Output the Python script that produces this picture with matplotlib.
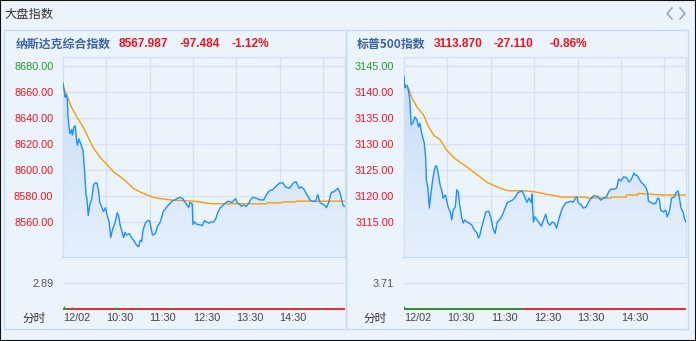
import numpy as np
import matplotlib
matplotlib.use("Agg")
import matplotlib.pyplot as plt
from matplotlib.lines import Line2D
from matplotlib.patches import Rectangle

plt.rcParams['font.family'] = ['Noto Sans CJK SC', 'DejaVu Sans']

# ---- data (minutes after 09:30) ----
ndx_min = [0, 2, 3, 4, 6, 7, 9, 10, 12, 13, 15, 17, 19, 20, 22, 24, 26, 28, 30, 32,
           33, 35, 37, 40, 42, 44, 47, 49, 51, 54, 56, 59, 61, 64, 66, 69, 72, 75, 77, 79,
           81, 84, 86, 88, 92, 95, 99, 102, 105, 107, 109, 111, 114, 117, 120, 122, 124, 128, 131, 134,
           137, 139, 143, 146, 151, 155, 158, 162, 166, 168, 172, 174, 176, 179, 180, 182, 186, 190, 193, 196,
           199, 203, 205, 209, 212, 215, 218, 222, 226, 229, 234, 239, 241, 244, 247, 250, 254, 257, 261, 264,
           269, 273, 278, 282, 286, 291, 296, 300, 305, 308, 314, 319, 323, 327, 330, 334, 338, 342, 345, 350,
           353, 356, 359, 362, 365, 368, 372, 375, 379, 381, 384, 386, 388, 390]
ndx_val = [8667, 8660, 8656, 8658, 8655, 8640, 8630, 8628, 8631, 8627, 8633, 8634, 8622, 8619, 8624, 8621, 8618, 8614, 8598, 8580,
           8579, 8565, 8573, 8578, 8588, 8590, 8590, 8585, 8575, 8571, 8568, 8571, 8565, 8560, 8548, 8555, 8559, 8567, 8565, 8558,
           8554, 8548, 8552, 8550, 8551, 8548, 8545, 8542, 8541, 8546, 8545, 8554, 8559, 8561, 8561, 8555, 8550, 8551, 8557, 8559,
           8564, 8568, 8571, 8573, 8576, 8577, 8578, 8579, 8578, 8576, 8573, 8571, 8575, 8574, 8558, 8560, 8558, 8558, 8557, 8561,
           8560, 8559, 8560, 8560, 8563, 8568, 8571, 8573, 8575, 8576, 8575, 8578, 8575, 8574, 8572, 8573, 8572, 8574, 8578, 8579,
           8578, 8577, 8577, 8581, 8584, 8585, 8588, 8590, 8590, 8587, 8586, 8590, 8591, 8586, 8587, 8585, 8581, 8577, 8576, 8576,
           8581, 8575, 8574, 8573, 8571, 8575, 8583, 8583, 8585, 8586, 8582, 8577, 8573, 8572]
ndx_avg_min = [0, 5, 12, 19, 28, 35, 42, 51, 61, 70, 79, 88, 97, 107, 116, 125, 134, 149, 179, 188,
               206, 282, 283, 303, 304, 322, 323, 390]
ndx_avg_val = [8664, 8658, 8648, 8641, 8633, 8625, 8617, 8610, 8604, 8598.5, 8595, 8591, 8586, 8583, 8581, 8579, 8578, 8577, 8576, 8575.5,
               8574, 8574, 8574.8, 8574.8, 8575.4, 8575.4, 8576, 8576]

spx_min = [0, 1, 4, 6, 8, 10, 12, 15, 18, 20, 22, 24, 28, 30, 31, 33, 35, 37, 40, 43,
           45, 47, 50, 52, 54, 57, 59, 61, 64, 66, 68, 71, 73, 75, 77, 80, 82, 84, 87, 90,
           94, 97, 101, 103, 105, 107, 111, 113, 117, 120, 123, 126, 129, 132, 136, 140, 143, 147, 150, 154,
           157, 160, 163, 166, 170, 173, 176, 177, 179, 181, 184, 187, 190, 194, 196, 199, 202, 205, 208, 211,
           214, 217, 220, 224, 227, 231, 234, 237, 239, 241, 245, 248, 252, 255, 259, 262, 266, 269, 272, 276,
           280, 283, 286, 290, 294, 297, 300, 304, 308, 311, 314, 318, 320, 322, 326, 329, 332, 335, 337, 338,
           341, 345, 348, 351, 353, 355, 359, 362, 364, 367, 370, 374, 376, 379, 381, 383, 386, 388, 390]
spx_val = [3143, 3140.8, 3141.3, 3140.4, 3138.5, 3133.7, 3134, 3135.2, 3134.6, 3133.3, 3134, 3132.3, 3130.2, 3127.3, 3123, 3121.7, 3117.7, 3120.2, 3123.5, 3125.6,
           3125.8, 3124.6, 3122.1, 3121.2, 3119.6, 3120.2, 3119.2, 3117.9, 3116.9, 3115.4, 3117.3, 3117.9, 3121.2, 3120.8, 3118.3, 3115.8, 3114.8, 3115.4, 3115, 3114.8,
           3114.4, 3113.5, 3112.9, 3111.9, 3112.5, 3113.8, 3115.8, 3116.9, 3117.1, 3116, 3113.8, 3112.8, 3115, 3115.4, 3116.3, 3117.7, 3118.8, 3119, 3119.2, 3119.8,
           3120.6, 3120.8, 3121, 3120.2, 3118.8, 3119.6, 3118.7, 3120.4, 3115, 3116, 3115.4, 3114.8, 3114.2, 3115.8, 3116.5, 3114.8, 3114.4, 3115, 3114.8, 3113.8,
           3115.4, 3116.9, 3117.9, 3118.7, 3118.8, 3119, 3118.8, 3119.6, 3119.8, 3118.7, 3118.3, 3117.7, 3117.9, 3118.8, 3119.6, 3120, 3120, 3119.8, 3119.2, 3119.6,
           3119.8, 3120.8, 3121.3, 3121.3, 3121.5, 3123.3, 3122.9, 3123.7, 3123.5, 3122.7, 3123.1, 3124.4, 3124, 3124, 3123.1, 3122.5, 3122.1, 3121.5, 3120.6, 3119,
           3118.8, 3118.5, 3118.6, 3119.6, 3119.4, 3117.3, 3116.9, 3117.3, 3116, 3117, 3119.6, 3119.8, 3120.6, 3121, 3119.6, 3117.7, 3116.9, 3115.6, 3115]
spx_avg_min = [0, 6, 11, 18, 27, 34, 41, 50, 59, 68, 77, 87, 96, 105, 114, 123, 133, 145, 168, 181,
               195, 218, 250, 255, 286, 287, 307, 308, 323, 324, 358, 390]
spx_avg_val = [3141.7, 3140.8, 3138.8, 3137.1, 3135.6, 3133.3, 3131.7, 3130.8, 3128.8, 3127.5, 3126.5, 3125.6, 3124.6, 3123.7, 3122.7, 3122.1, 3121.5, 3121, 3121, 3120.8,
               3120.4, 3119.8, 3119.8, 3119.6, 3119.6, 3119.8, 3119.8, 3120.2, 3120.2, 3120.5, 3120.2, 3120.2]

# volume strip: baseline segments and a few taller ticks
ndx_green_seg = [(0, 5), (72, 76), (90, 92), (100, 102), (115, 117), (150, 152), (230, 232), (330, 332), (358, 360), (375, 377)]
ndx_spikes_min = [1, 12, 74]
ndx_spikes_val = [0.35, 0.3, 0.3]
spx_green_seg = [(0, 165), (210, 212), (300, 302)]
spx_spikes_min = [0]
spx_spikes_val = [0.35]

x_ticks = [0, 60, 120, 180, 240, 300]
x_labels = ["12/02", "10:30", "11:30", "12:30", "13:30", "14:30"]

panels = [
    dict(name="纳斯达克综合指数", last="8567.987", chg="-97.484", pct="-1.12%",
         t=ndx_min, v=ndx_val, at=ndx_avg_min, av=ndx_avg_val,
         yticks=[8680, 8660, 8640, 8620, 8600, 8580, 8560], grid=[8540], ylim=(8532.3, 8686.9),
         vol_label="2.89", green=ndx_green_seg, sm=ndx_spikes_min, sv=ndx_spikes_val,
         x0=63, x1=344.5, box=(4, 346), nx=(16, 119, 180, 231)),
    dict(name="标普500指数", last="3113.870", chg="-27.110", pct="-0.86%",
         t=spx_min, v=spx_val, at=spx_avg_min, av=spx_avg_val,
         yticks=[3145, 3140, 3135, 3130, 3125, 3120, 3115], grid=[3110], ylim=(3108.08, 3146.73),
         vol_label="3.71", green=spx_green_seg, sm=spx_spikes_min, sv=spx_spikes_val,
         x0=404, x1=686, box=(346, 688), nx=(357, 434, 494, 549)),
]

W, H = 696, 341
BG = "#EBF3FC"
GRID = "#D3E3F5"
RED = "#F0141E"
GREEN = "#1E9E28"

fig = plt.figure(figsize=(W / 100, H / 100), dpi=100, facecolor=BG)


def fx(px):
    return px / W


def fy(py):
    return 1 - py / H


# outer frame + title
fig.add_artist(Rectangle((0, 0), 1, 1, transform=fig.transFigure, fill=False, ec="#111111", lw=1.5))
fig.text(fx(4), fy(14), "大盘指数", fontsize=8.8, color="#333333", va="center", ha="left")
for xs in ([672, 667, 672], [680, 685, 680]):
    fig.add_artist(Line2D([fx(x) for x in xs], [fy(8), fy(13.5), fy(19)], color="#8D9BAA", lw=1))

grad = np.linspace(0, 1, 256).reshape(-1, 1)
cmap = matplotlib.colors.LinearSegmentedColormap.from_list("g", ["#E6F0FC", "#C4DBF6"])

for p in panels:
    bx0, bx1 = p["box"]
    fig.add_artist(Rectangle((fx(bx0), fy(329)), fx(bx1 - bx0), (329 - 30) / H,
                             transform=fig.transFigure, fill=False, ec="#C6DAEF", lw=1))
    # header
    nx = p["nx"]
    fig.text(fx(nx[0]), fy(44), p["name"], fontsize=8.6, color="#3D66A0", fontweight="bold", va="center")
    for xx, s in zip(nx[1:], [p["last"], p["chg"], p["pct"]]):
        fig.text(fx(xx), fy(44), s, fontsize=8.6, color=RED, fontweight="bold", va="center",
                 family=["Liberation Sans", "DejaVu Sans"])

    x0, x1 = p["x0"], p["x1"]
    ax = fig.add_axes([fx(x0), fy(258), fx(x1 - x0), (258 - 57) / H])
    ax.set_facecolor(BG)
    ax.set_xlim(0, 390)
    ax.set_ylim(*p["ylim"])
    for yv in p["yticks"] + p["grid"]:
        ax.axhline(yv, color=GRID, lw=0.9, zorder=0)
    for xv in [60, 120, 180, 240, 300, 360]:
        ax.axvline(xv, color=GRID, lw=0.9, zorder=0)
    for s in ax.spines.values():
        s.set_color("#CFE0F3")
        s.set_linewidth(0.9)
    ax.spines["bottom"].set_color("#C3D8EF")
    ax.spines["bottom"].set_linewidth(1.5)

    poly = ax.fill_between(p["t"], p["v"], p["ylim"][0], color="none", lw=0)
    im = ax.imshow(grad, extent=[0, 390, p["ylim"][0], p["ylim"][1]], origin="lower",
                   cmap=cmap, aspect="auto", zorder=1)
    im.set_clip_path(poly.get_paths()[0], transform=ax.transData)
    ax.plot(p["t"], p["v"], color="#1E8FFF", lw=1.0, zorder=3)
    ax.plot(p["at"], p["av"], color="#FF9A00", lw=1.0, zorder=2)

    ax.set_yticks(p["yticks"])
    ax.set_yticklabels([f"{v:.2f}" for v in p["yticks"]], family=["Liberation Sans", "DejaVu Sans"])
    ax.tick_params(axis="y", length=0, pad=7, labelsize=7.8)
    for i, lab in enumerate(ax.get_yticklabels()):
        lab.set_color(GREEN if i == 0 else RED)
    ax.set_xticks([])

    # volume strip
    vax = fig.add_axes([fx(x0), fy(309.5), fx(x1 - x0), (309.5 - 258) / H])
    vax.set_facecolor(BG)
    vax.set_xlim(0, 390)
    vax.set_ylim(0, 5.67)
    for s in vax.spines.values():
        s.set_visible(False)
    vax.axhline(2.89, color=GRID, lw=0.9, zorder=0)
    vax.hlines(0.08, 0, 390, color=RED, lw=1.3, zorder=2)
    for a, b in p["green"]:
        vax.hlines(0.08, a, b, color=GREEN, lw=1.3, zorder=3)
    vax.vlines(p["sm"], 0, p["sv"], color=GREEN, lw=1.0, zorder=3)
    vax.set_yticks([2.89])
    vax.set_yticklabels([p["vol_label"]], family=["Liberation Sans", "DejaVu Sans"])
    vax.tick_params(axis="y", length=0, pad=7, labelsize=7.8, labelcolor="#555555")
    vax.set_xticks([])

    fig.text(fx(x0 - 41), fy(318), "分时", fontsize=8.4, color="#333333", va="center")
    for xt, lab in zip(x_ticks, x_labels):
        px = x0 + xt * (x1 - x0) / 390
        fig.text(fx(px), fy(318), lab, fontsize=7.8, color="#444444", va="center", ha="left",
                 family=["Liberation Sans", "DejaVu Sans"])

fig.savefig("out.png", dpi=100, facecolor=BG)
